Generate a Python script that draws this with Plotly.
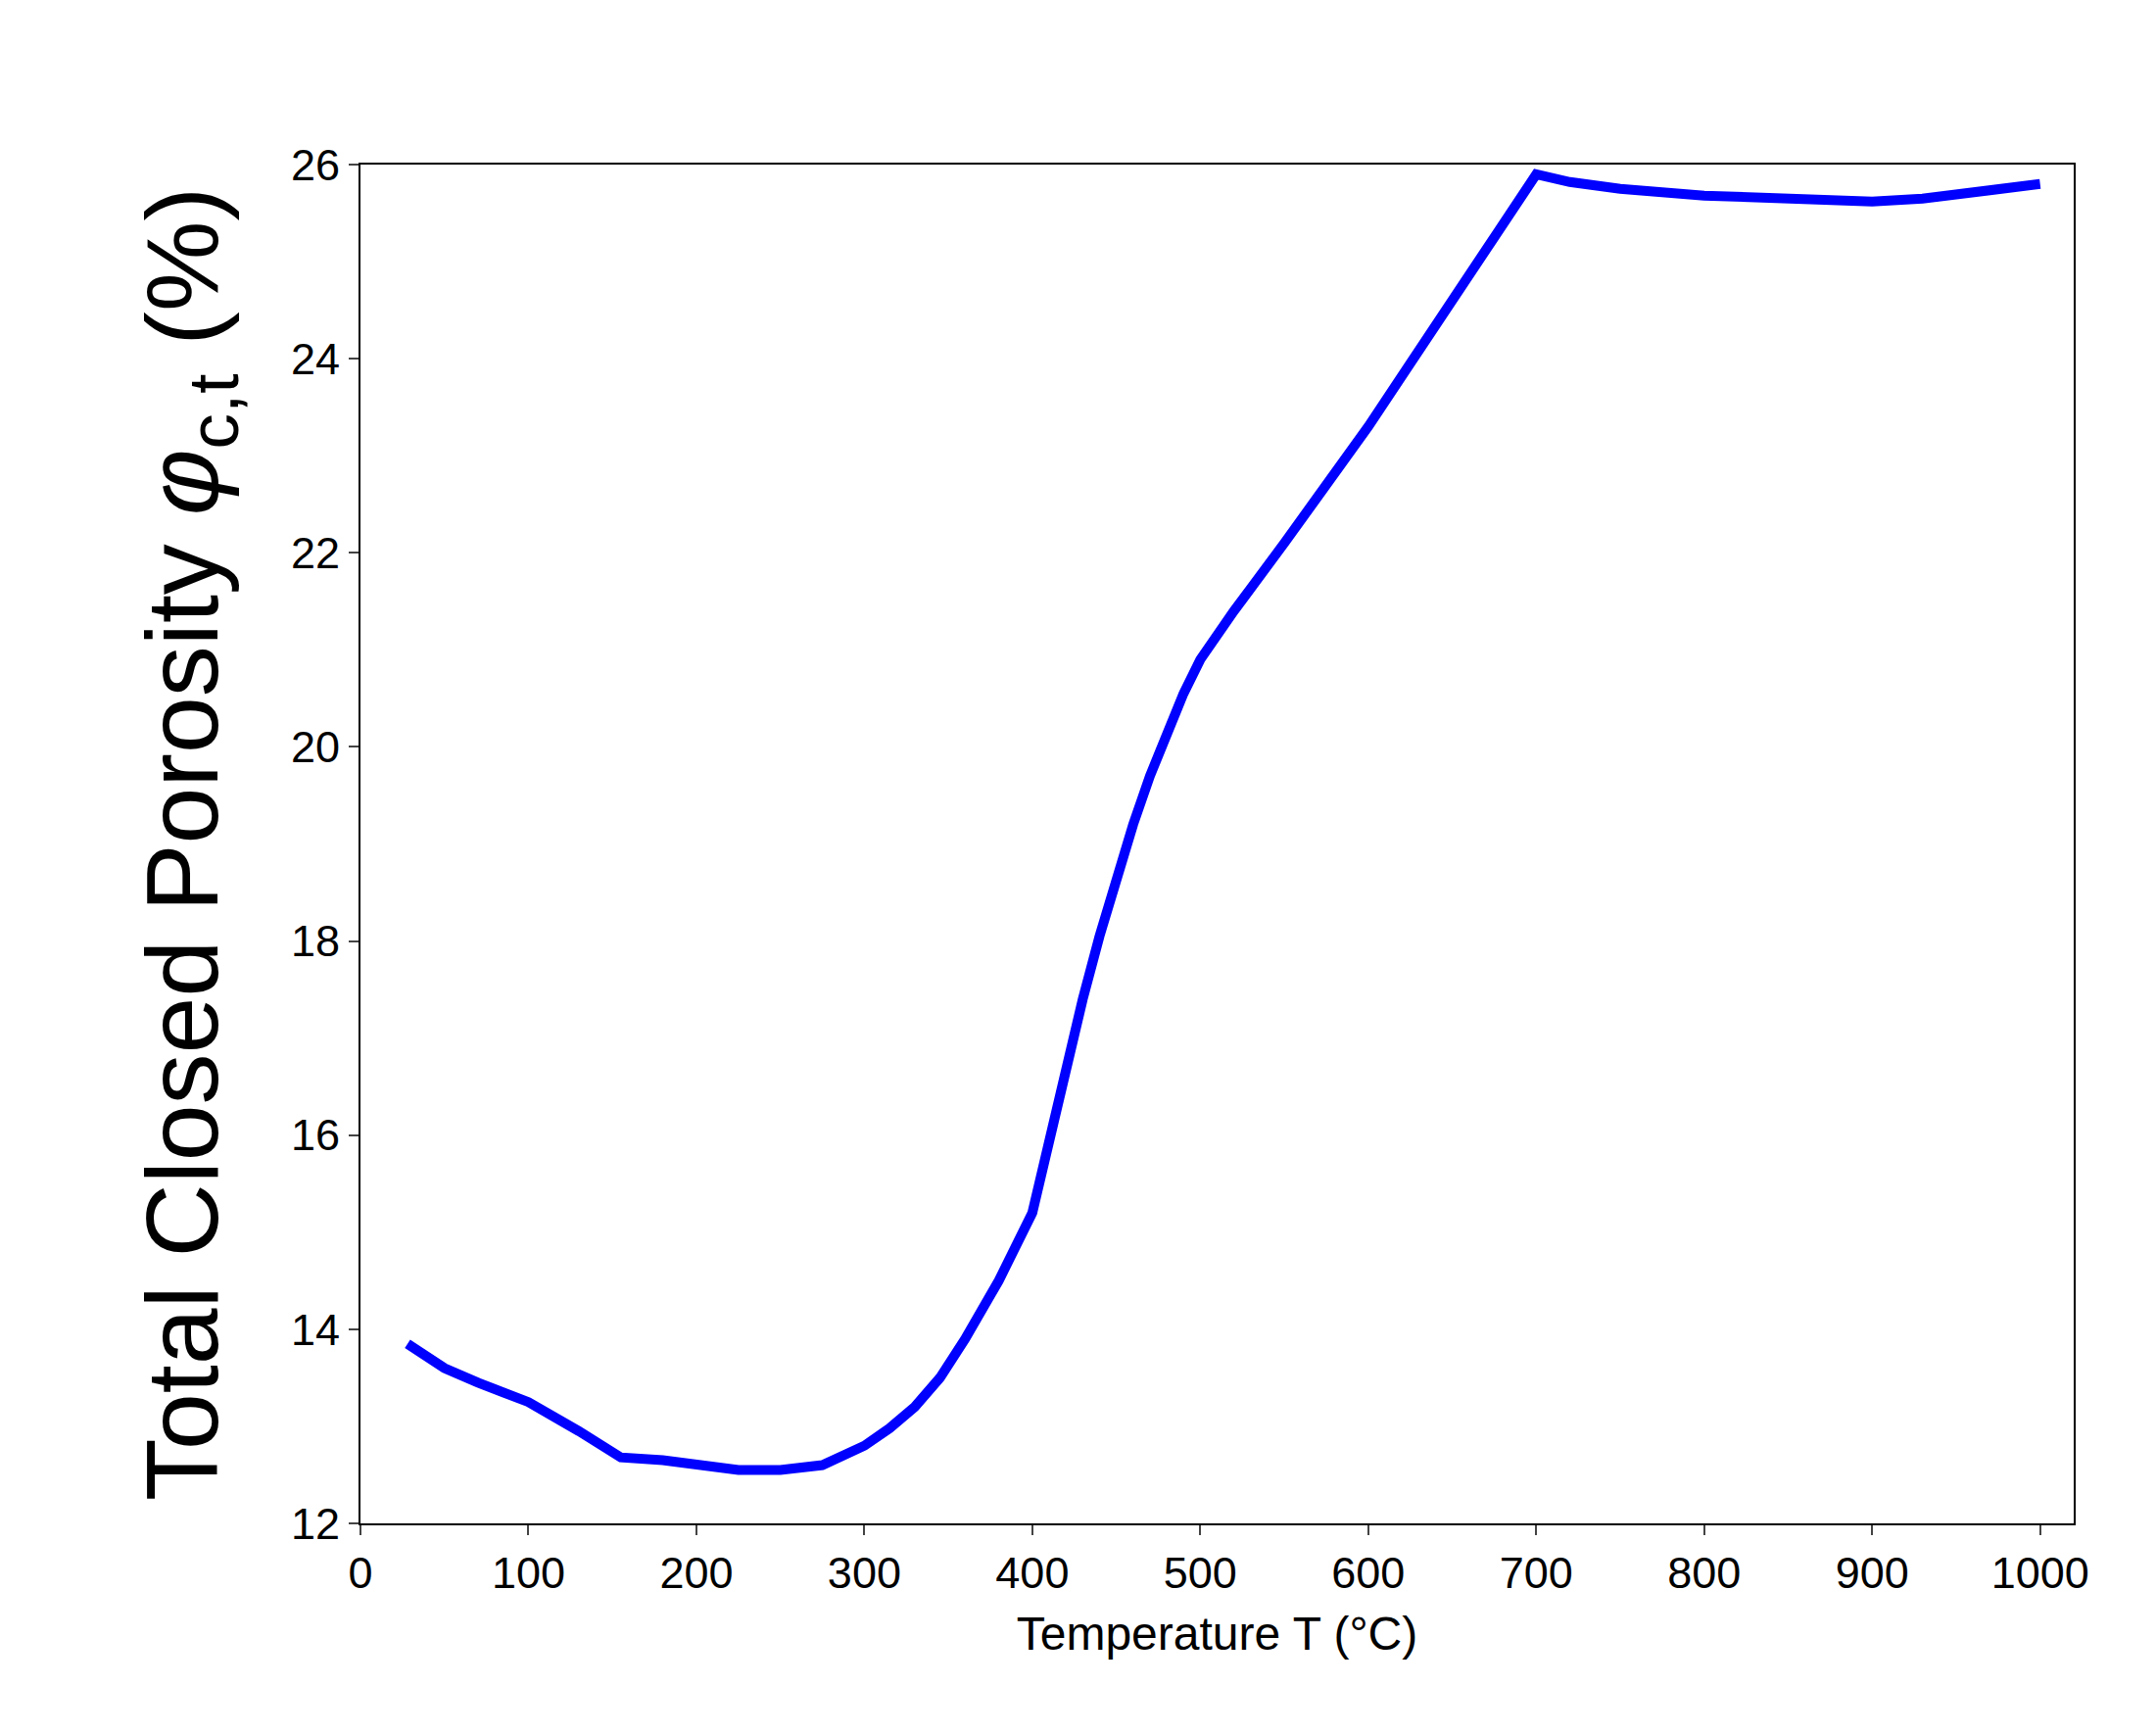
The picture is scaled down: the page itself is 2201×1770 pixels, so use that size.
import plotly.graph_objects as go

temperature = [28, 50, 70, 100, 130, 155, 180, 200, 225, 250, 275, 300, 315, 330, 345, 360, 380, 400, 410, 420, 430, 440, 450, 460, 470, 480, 490, 500, 520, 550, 575, 600, 625, 650, 675, 700, 720, 750, 800, 850, 900, 930, 960, 1000]
porosity = [13.85, 13.6, 13.45, 13.25, 12.95, 12.68, 12.65, 12.6, 12.55, 12.55, 12.6, 12.8, 12.98, 13.2, 13.5, 13.9, 14.5, 15.2, 15.95, 16.7, 17.4, 18.05, 18.65, 19.2, 19.7, 20.15, 20.55, 20.9, 21.4, 22.1, 22.7, 23.3, 23.95, 24.6, 25.25, 25.9, 25.82, 25.75, 25.68, 25.65, 25.62, 25.65, 25.72, 25.8]

fig = go.Figure(go.Scatter(x=temperature, y=porosity, mode="lines",
                           line=dict(color="#0000ff", width=10)))
font = "Liberation Sans, Arial, sans-serif"
fig.update_layout(
    width=2201, height=1770, paper_bgcolor="white", plot_bgcolor="white",
    margin=dict(l=360, r=92, t=160, b=223), showlegend=False,
    font=dict(family=font, color="black"),
)
fig.update_xaxes(range=[0, 1020], tickvals=list(range(0, 1001, 100)), showline=True, mirror=True,
                 linecolor="black", linewidth=2, ticks="outside", ticklen=10, tickwidth=2,
                 showgrid=False, zeroline=False, tickfont=dict(size=45),
                 title=dict(text="Temperature T (°C)", font=dict(size=48), standoff=20))
fig.update_yaxes(range=[12, 26], tickvals=list(range(12, 27, 2)), showline=True, mirror=True,
                 linecolor="black", linewidth=2, ticks="outside", ticklen=10, tickwidth=2,
                 showgrid=False, zeroline=False, tickfont=dict(size=45),
                 title=dict(text="Total Closed Porosity <i>φ</i><sub>c,t</sub> (%)", font=dict(size=104), standoff=40))
fig.write_html("out.html")
